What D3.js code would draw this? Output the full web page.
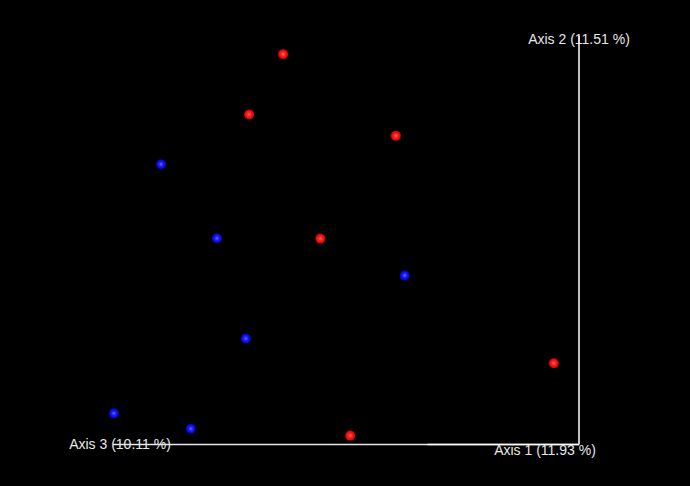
<!DOCTYPE html>
<html>
<head>
<meta charset="utf-8">
<script src="https://cdn.jsdelivr.net/npm/d3@7"></script>
<style>
  body { margin: 0; background: #000; }
  svg { display: block; }
</style>
</head>
<body>
<script>
const width = 690;
const height = 486;

// projected PCoA coordinates (screen-plane units, 0..100)
const red_x = [36.5, 29.2, 60.7, 44.5, 94.6, 50.9];
const red_y = [96.5, 81.6, 76.3, 50.9, 20.1, 2.2];
const blue_x = [10.3, 22.3, 62.6, 28.5, 0.2, 16.7];
const blue_y = [69.3, 51.0, 41.8, 26.2, 7.7, 3.9];

const axis_labels = ["Axis 1 (11.93 %)", "Axis 2 (11.51 %)", "Axis 3 (10.11 %)"];

let svg = d3.select("body").append("svg")
        .attr("width", width)
        .attr("height", height);

svg.append("rect").attr("width", width).attr("height", height).attr("fill", "#000");

let x = d3.scaleLinear().domain([0, 100]).range([113, 579]);
let y = d3.scaleLinear().domain([0, 100]).range([444.5, 40]);

let defs = svg.append("defs");
let make_grad = function(id, light, mid, dark){
  let g = defs.append("radialGradient").attr("id", id)
      .attr("cx", "50%").attr("cy", "50%").attr("r", "50%");
  g.append("stop").attr("offset", "0%").attr("stop-color", light);
  g.append("stop").attr("offset", "45%").attr("stop-color", mid);
  g.append("stop").attr("offset", "100%").attr("stop-color", dark);
}
make_grad("g_red", "#ff6a6a", "#ff1a1a", "#c80000");
make_grad("g_blue", "#6a6aff", "#1a1aff", "#0000c0");

// axis lines
let origin_x = x(100), origin_y = y(0);
svg.append("line")
  .attr("x1", origin_x).attr("y1", origin_y)
  .attr("x2", origin_x).attr("y2", y(101))
  .attr("stroke", "#fff").attr("stroke-width", 1.5);
svg.append("line")
  .attr("x1", origin_x).attr("y1", origin_y)
  .attr("x2", x(0)).attr("y2", origin_y)
  .attr("stroke", "#e8e8e8").attr("stroke-width", 1.5);
svg.append("line")
  .attr("x1", origin_x).attr("y1", origin_y)
  .attr("x2", x(67.5)).attr("y2", origin_y)
  .attr("stroke", "#fff").attr("stroke-width", 1.5);

let pts = [];
red_x.forEach((v, i) => pts.push({x: v, y: red_y[i], c: "red"}));
blue_x.forEach((v, i) => pts.push({x: v, y: blue_y[i], c: "blue"}));

svg.append("g").selectAll("circle")
  .data(pts)
  .enter().append("circle")
  .attr("cx", d => x(d.x))
  .attr("cy", d => y(d.y))
  .attr("r", 5)
  .attr("fill", d => d.c == "red" ? "url(#g_red)" : "url(#g_blue)");

let label_font = "Liberation Sans, Arial, sans-serif";
let add_label = function(txt, lx, ly){
  svg.append("text")
    .attr("x", lx).attr("y", ly)
    .attr("text-anchor", "middle")
    .attr("font-family", label_font).attr("font-size", 14)
    .attr("fill", "#e6e6e6")
    .text(txt);
}
add_label(axis_labels[0], 545, 455);
add_label(axis_labels[1], 579, 44);
add_label(axis_labels[2], 120, 449);
</script>
</body>
</html>
